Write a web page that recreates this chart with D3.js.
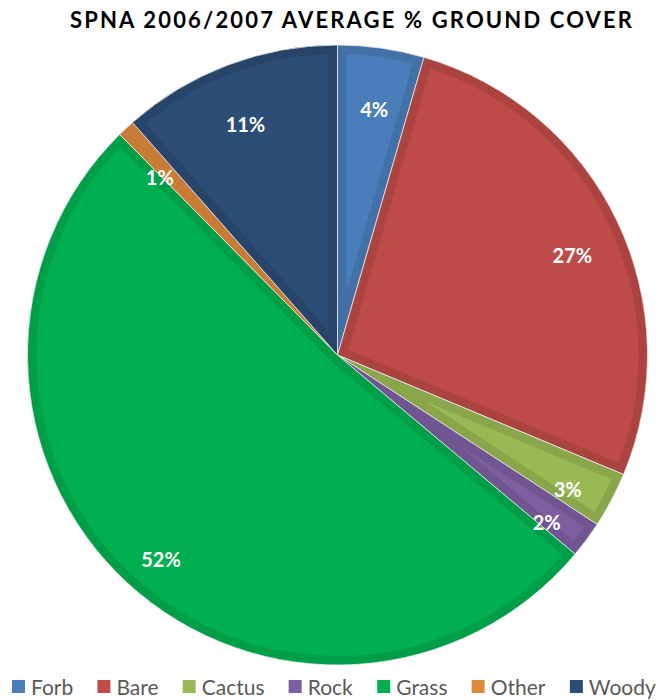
<!DOCTYPE html>
<html lang="en">
<head>
<meta charset="UTF-8">
<title>SPNA Ground Cover</title>
<style>
  body { margin: 0; background: #fff; }
  svg { display: block; }
</style>
</head>
<body>
<svg id="chart" width="658" height="700"></svg>
<script src="https://cdn.jsdelivr.net/npm/d3@7"></script>
<script>
/* global d3 */

// chart data
var categories = ["Forb", "Bare", "Cactus", "Rock", "Grass", "Other", "Woody"];
var values = [4.5, 26.8, 2.9, 1.9, 51.5, 0.9, 11.5];
var labels = ["4%", "27%", "3%", "2%", "52%", "1%", "11%"];
var colors = ["#4a7ebb", "#be4b48", "#98b954", "#7d5fa0", "#00b050", "#e08a3c", "#2c4d75"];

var svg = d3.select("#chart"),
    width = +svg.attr("width"),
    cx = 337.5, cy = 355, radius = 310;

// title
svg.append("text")
    .attr("x", 351).attr("y", 28)
    .attr("text-anchor", "middle")
    .attr("font-family", "Lato, sans-serif")
    .attr("font-weight", "bold")
    .attr("font-size", 22)
    .attr("textLength", 562)
    .attr("lengthAdjust", "spacing")
    .attr("fill", "#000")
    .text("SPNA 2006/2007 AVERAGE % GROUND COVER");

var data = categories.map(function(c, i) {
    return { name: c, value: values[i], label: labels[i], color: colors[i] };
});

var pie = d3.pie().sort(null).value(d => d.value);
var arc = d3.arc().innerRadius(0).outerRadius(radius);
var labelArc = d3.arc().innerRadius(radius * 0.84).outerRadius(radius * 0.84);
var arcs = pie(data);

var g = svg.append("g").attr("transform", "translate(" + cx + "," + cy + ")");
var defs = svg.append("defs");

arcs.forEach(function(a, i) {
    defs.append("clipPath").attr("id", "clip" + i)
        .append("path").attr("d", arc(a));
});

var slices = g.selectAll("g.slice").data(arcs).enter().append("g").attr("class", "slice");

// base fill
slices.append("path")
    .attr("d", arc)
    .attr("fill", d => d.data.color);

// darker bevel band along the slice edges
slices.append("path")
    .attr("d", arc)
    .attr("clip-path", (d, i) => "url(#clip" + i + ")")
    .attr("fill", "none")
    .attr("stroke", d => d3.color(d.data.color).darker(0.3))
    .attr("stroke-width", 18)
    .attr("stroke-linejoin", "miter");

// thin separators
slices.append("path")
    .attr("d", arc)
    .attr("fill", "none")
    .attr("stroke", "#f2f2f2")
    .attr("stroke-width", 0.8);

// percent labels
g.selectAll("text.pct").data(arcs).enter().append("text")
    .attr("class", "pct")
    .attr("transform", function(d) {
        var c = labelArc.centroid(d);
        return "translate(" + c[0] + "," + (c[1] + 13) + ")";
    })
    .attr("text-anchor", "middle")
    .attr("dy", "0.36em")
    .attr("font-family", "Lato, sans-serif")
    .attr("font-weight", "bold")
    .attr("font-size", 20)
    .attr("fill", "#fff")
    .text(d => d.data.label);

// legend
var legend = svg.append("g").attr("transform", "translate(0,687)");
var items = legend.selectAll("g.item").data(data).enter().append("g").attr("class", "item");
items.append("rect")
    .attr("y", -7).attr("width", 13).attr("height", 13)
    .attr("fill", d => d.color);
items.append("text")
    .attr("x", 19).attr("dy", "0.36em")
    .attr("font-family", "Lato, sans-serif")
    .attr("font-size", 21)
    .attr("fill", "#595959")
    .text(d => d.name);

// spread items evenly between the left and right edge
var widths = [];
items.each(function() { widths.push(this.getBBox().width); });
var total = d3.sum(widths), left = 12, right = width - 2;
var gap = (right - left - total) / (data.length - 1);
var xpos = left;
items.attr("transform", function(d, i) {
    var t = "translate(" + xpos + ",0)";
    xpos += widths[i] + gap;
    return t;
});
</script>
</body>
</html>
